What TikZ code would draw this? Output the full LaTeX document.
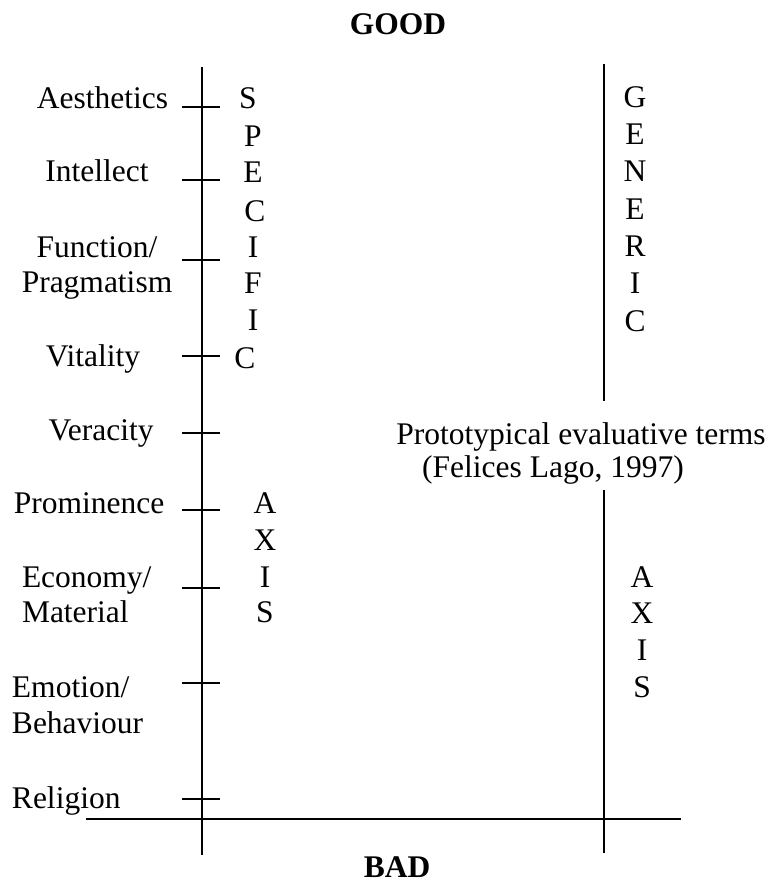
\documentclass[tikz,border=0pt]{standalone}
\usepackage{fontspec}
\setmainfont{Liberation Serif}
\begin{document}
\begin{tikzpicture}[x=1pt,y=-1pt,
  every node/.style={inner sep=0pt,outer sep=0pt,font=\fontsize{31.5}{37}\selectfont},
  lbl/.style={anchor=base},
  lblw/.style={anchor=base west},
  lble/.style={anchor=base east},
  ttl/.style={anchor=base,font=\fontsize{31.5}{37}\selectfont\bfseries},
  axisline/.style={line width=1.8pt},
  tickline/.style={line width=1.8pt}]
\useasboundingbox (0,0) rectangle (773,885);
% titles
\node[ttl] (good) at (398,35) {GOOD};
\node[ttl] (bad) at (397,877) {BAD};
% axis coordinates
\coordinate (Ltop) at (202,67);
\coordinate (Lbot) at (202,855);
\coordinate (RtopA) at (604,64);
\coordinate (RtopB) at (604,401);
\coordinate (RbotA) at (604,490);
\coordinate (RbotB) at (604,853);
\coordinate (Hl) at (86,819);
\coordinate (Hr) at (681,819);
\draw[axisline] (Ltop) -- (Lbot);
\draw[axisline] (RtopA) -- (RtopB);
\draw[axisline] (RbotA) -- (RbotB);
\draw[axisline] (Hl) -- (Hr);
% ticks
\foreach \n/\y in {aes/107,int/180,fun/260,vit/356,ver/433,pro/510,eco/588,emo/683,rel/799}{
  \coordinate (t\n a) at (182,\y);
  \coordinate (t\n b) at (220,\y);
  \draw[tickline] (t\n a) -- (t\n b);
}
% labels
\node[lble] (aes) at (168,109) {Aesthetics};
\node[lbl] (int) at (97,182) {Intellect};
\node[lbl] (fun1) at (97,257) {Function/};
\node[lbl] (fun2) at (97,292) {Pragmatism};
\node[lbl] (vit) at (93,366) {Vitality};
\node[lbl] (ver) at (101,440) {Veracity};
\node[lbl] (pro) at (89,513) {Prominence};
\node[lblw] (eco1) at (22,587) {Economy/};
\node[lblw] (eco2) at (22,622) {Material};
\node[lblw] (emo1) at (12,697) {Emotion/};
\node[lblw] (emo2) at (12,733) {Behaviour};
\node[lblw] (rel) at (12,808) {Religion};
% SPECIFIC
\foreach \c/\x/\y [count=\i] in {S/248/109,P/253/147,E/253/183,C/255/222,I/253/257,F/253/293,I/253/330,C/245/368}{
  \node[lbl] (sp\i) at (\x,\y) {\c};
}
% AXIS left
\foreach \c/\y [count=\i] in {A/513,X/550,I/587,S/622}{
  \node[lbl] (la\i) at (265,\y) {\c};
}
% GENERIC
\foreach \c/\y [count=\i] in {G/108,E/145,N/182,E/219,R/256,I/293,C/331}{
  \node[lbl] (ge\i) at (635,\y) {\c};
}
% AXIS right
\foreach \c/\y [count=\i] in {A/587,X/623,I/660,S/697}{
  \node[lbl] (ra\i) at (642,\y) {\c};
}
% caption
\node[lbl] (cap1) at (581,444) {Prototypical evaluative terms};
\node[lbl] (cap2) at (553,477) {(Felices Lago, 1997)};
\end{tikzpicture}
\end{document}
